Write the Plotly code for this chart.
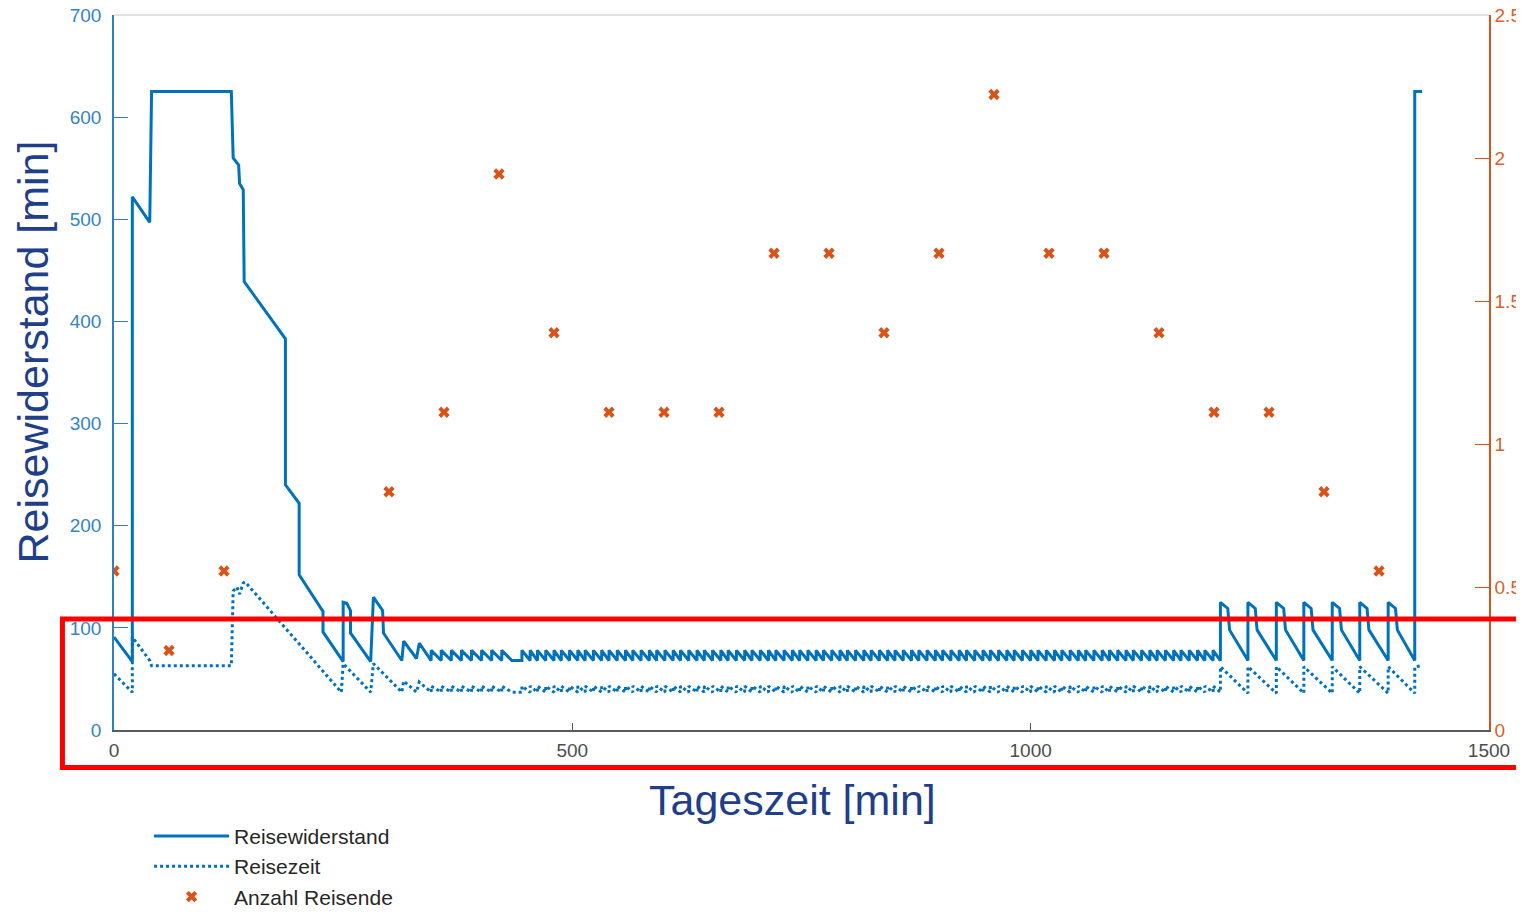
import plotly.graph_objects as go

# ---------------- data ----------------
# Reisewiderstand [min] – start section (time, value)
rw_start_t = [0, 20, 20, 39, 41, 128, 130, 136, 137, 141, 142, 187, 187, 202, 202, 228, 228,
              250, 250, 254, 258, 258, 280, 283, 293, 294, 314, 316, 330, 333]
rw_start_v = [91, 67, 522, 497, 625, 625, 560, 553, 535, 529, 439, 383, 240, 222, 152, 116, 96,
              67, 125, 124, 117, 95, 67, 130, 117, 95, 68, 87, 70, 85]

# Reisezeit [min] – start section
rz_start_t = [0, 20, 20, 39, 41, 128, 130, 134, 137, 141, 143, 248, 250, 280, 283, 314, 316, 330, 333]
rz_start_v = [55, 37, 91, 68, 63, 63, 136, 140, 133, 144, 145, 37, 65, 37, 65, 37, 48, 37, 47]

# departures of the dense timetable (sawtooth section)
abfahrt_frueh = [346, 357, 368, 379, 390, 401, 412, 423]
pause_ende = 434
abfahrt_tag = [445, 454, 462, 471, 480, 488, 497, 506, 514, 523, 532, 540, 549, 558, 566, 575,
               584, 592, 601, 610, 618, 627, 636, 644, 653, 662, 670, 679, 688, 696, 705, 714,
               722, 731, 740, 748, 757, 766, 774, 783, 792, 800, 809, 818, 826, 835, 844, 852,
               861, 870, 878, 887, 896, 904, 913, 922, 930, 939, 948, 956, 965, 974, 982, 991,
               1000, 1008, 1017, 1026, 1034, 1043, 1052, 1060, 1069, 1078, 1086, 1095, 1104,
               1112, 1121, 1130, 1138, 1147, 1156, 1164, 1173, 1182, 1190, 1199]
rw_takt_min, rw_takt_max = 68, 78
rz_takt_min, rz_takt_max = 37, 43

# evening section
rw_end_t = [1207, 1207, 1215, 1217, 1237, 1237, 1245, 1247, 1268, 1268, 1276, 1278, 1298, 1298,
            1306, 1308, 1329, 1329, 1337, 1339, 1359, 1359, 1367, 1369, 1390, 1390, 1398, 1400,
            1419, 1419, 1427]
rw_end_v = [70, 125, 119, 98, 68, 125, 119, 98, 68, 125, 119, 98, 68, 125, 119, 98, 68, 125, 119,
            98, 68, 125, 119, 98, 68, 125, 119, 98, 68, 625, 625]
rz_end_t = [1207, 1207, 1237, 1237, 1268, 1268, 1298, 1298, 1329, 1329, 1359, 1359, 1390, 1390,
            1419, 1419, 1427]
rz_end_v = [38, 62, 36, 62, 36, 62, 36, 62, 36, 62, 36, 62, 36, 62, 36, 62, 63]

# Anzahl Reisende (right axis)
reisende_t = [0, 60, 120, 300, 360, 420, 480, 540, 600, 660, 720, 780, 840, 900, 960, 1020,
              1080, 1140, 1200, 1260, 1320, 1380]
reisende_n = [0.556, 0.278, 0.556, 0.833, 1.111, 1.944, 1.389, 1.111, 1.111, 1.111, 1.667, 1.667,
              1.389, 1.667, 2.222, 1.667, 1.667, 1.389, 1.111, 1.111, 0.833, 0.556]


def takt(deps, end, lo, hi):
    xs, ys = [], []
    for d in deps:
        xs += [d, d]
        ys += [lo, hi]
    xs.append(end)
    ys.append(lo)
    return xs, ys


x1a, y1a = takt(abfahrt_frueh, pause_ende, rw_takt_min, rw_takt_max)
x1b, y1b = takt(abfahrt_tag, rw_end_t[0], rw_takt_min, rw_takt_max)
rw_t = rw_start_t + x1a + x1b + rw_end_t
rw_v = rw_start_v + y1a + y1b + rw_end_v

x2a, y2a = takt(abfahrt_frueh, pause_ende, rz_takt_min, rz_takt_max)
x2b, y2b = takt(abfahrt_tag, rz_end_t[0], rz_takt_min, rz_takt_max)
rz_t = rz_start_t + x2a + x2b + rz_end_t
rz_v = rz_start_v + y2a + y2b + rz_end_v

BLUE = "#0072BD"
ORANGE = "#D95319"
FONT = "Liberation Sans, Arial, sans-serif"

fig = go.Figure()
fig.add_trace(go.Scatter(x=rw_t, y=rw_v, mode="lines", name="Reisewiderstand",
                         line=dict(color=BLUE, width=3)))
fig.add_trace(go.Scatter(x=rz_t, y=rz_v, mode="lines", name="Reisezeit",
                         line=dict(color=BLUE, width=3, dash="dot")))
fig.add_trace(go.Scatter(x=reisende_t, y=reisende_n, mode="markers", name="Anzahl Reisende",
                         yaxis="y2", marker=dict(symbol="x", size=10, color=ORANGE)))

fig.update_layout(
    width=1508, height=898,
    template="none",
    paper_bgcolor="white", plot_bgcolor="white",
    margin=dict(l=106, r=27, t=7, b=176, pad=0, autoexpand=False),
    font=dict(family=FONT),
    xaxis=dict(range=[0, 1500], tickvals=[0, 500, 1000, 1500], showgrid=False, zeroline=False,
               showline=True, linecolor="#5a5a5a", linewidth=2, ticks="inside", ticklen=7,
               tickcolor="#5a5a5a", tickfont=dict(size=19, color="#4d4d4d", family=FONT),
               ticklabelstandoff=2, ticklabeloverflow="allow", automargin=False),
    yaxis=dict(range=[0, 700], tickvals=[0, 100, 200, 300, 400, 500, 600, 700], showgrid=False,
               zeroline=False, showline=True, linecolor="#2F7FC1", linewidth=1.5,
               ticks="inside", ticklen=14, tickcolor="#2F7FC1", ticklabelstandoff=7,
               ticklabeloverflow="allow",
               tickfont=dict(size=19, color="#3584C4", family=FONT), automargin=False),
    yaxis2=dict(range=[0, 2.5], tickvals=[0, 0.5, 1, 1.5, 2, 2.5],
                ticktext=["0", "0.5", "1", "1.5", "2", "2.5"], overlaying="y", side="right",
                showgrid=False, zeroline=False, showline=True, linecolor=ORANGE, linewidth=1.5,
                ticks="inside", ticklen=14, tickcolor=ORANGE, ticklabelstandoff=0,
                ticklabeloverflow="allow",
                tickfont=dict(size=19, color="#D9622B", family=FONT), automargin=False),
    showlegend=True,
    legend=dict(x=0.0255, y=-0.120, xanchor="left", yanchor="top", bgcolor="rgba(0,0,0,0)",
                font=dict(size=21, color="#262626", family=FONT), itemwidth=75,
                tracegroupgap=0),
    annotations=[
        dict(text="Tageszeit [min]", xref="paper", yref="paper", x=0.4938, y=-0.098,
             showarrow=False, xanchor="center", yanchor="middle",
             font=dict(size=43, color="#1F3F8A", family=FONT)),
        dict(text="Reisewiderstand [min]", xref="paper", yref="paper", x=-0.0589, y=0.528,
             showarrow=False, xanchor="center", yanchor="middle", textangle=-90,
             font=dict(size=43, color="#1F3F8A", family=FONT)),
    ],
    shapes=[
        dict(type="line", xref="paper", yref="paper", x0=0, x1=1, y0=1, y1=1,
             line=dict(color="#c8c8c8", width=1), layer="below"),
        dict(type="rect", xref="paper", yref="paper", x0=-0.0375, x1=1.03, y0=-0.0525, y1=0.1552,
             line=dict(color="#FF0000", width=5), layer="above"),
    ],
)

fig.write_html("out.html")
